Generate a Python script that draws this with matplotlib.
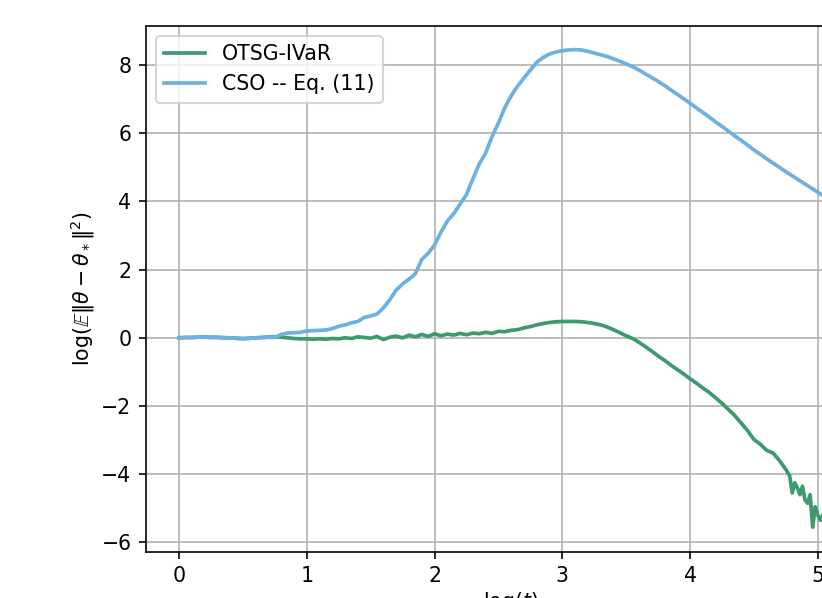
import numpy as np
import matplotlib as mpl
mpl.use('Agg')
import matplotlib.pyplot as plt

DPI = 148

# log(t) grid and the two error curves
t_cso = np.round(np.arange(0, 5.2001, 0.05), 2)
err_cso = [
    0.00, 0.01, 0.01, 0.02, 0.02, 0.02, 0.02, 0.01, 0.00, -0.02,
    -0.03, -0.02, 0.00, 0.01, 0.02, 0.01, 0.10, 0.14, 0.15, 0.16,
    0.20, 0.21, 0.22, 0.23, 0.27, 0.34, 0.38, 0.44, 0.48, 0.60,
    0.64, 0.70, 0.88, 1.12, 1.40, 1.58, 1.72, 1.88, 2.30, 2.48,
    2.72, 3.10, 3.42, 3.64, 3.92, 4.20, 4.66, 5.10, 5.42, 5.90,
    6.30, 6.75, 7.10, 7.38, 7.62, 7.85, 8.08, 8.22, 8.32, 8.38,
    8.42, 8.44, 8.45, 8.44, 8.40, 8.35, 8.30, 8.25, 8.18, 8.11,
    8.03, 7.95, 7.85, 7.74, 7.63, 7.52, 7.40, 7.27, 7.14, 7.01,
    6.88, 6.74, 6.61, 6.47, 6.33, 6.20, 6.06, 5.92, 5.79, 5.65,
    5.51, 5.38, 5.25, 5.12, 5.00, 4.87, 4.75, 4.63, 4.51, 4.39,
    4.27, 4.15, 4.03, 3.91, 3.80,
]

t_otsg = [
    0.00, 0.05, 0.10, 0.15, 0.20, 0.25, 0.30, 0.35, 0.40, 0.45,
    0.50, 0.55, 0.60, 0.65, 0.70, 0.75, 0.80, 0.85, 0.90, 0.95,
    1.00, 1.05, 1.10, 1.15, 1.20, 1.25, 1.30, 1.35, 1.40, 1.45,
    1.50, 1.55, 1.60, 1.65, 1.70, 1.75, 1.80, 1.85, 1.90, 1.95,
    2.00, 2.05, 2.10, 2.15, 2.20, 2.25, 2.30, 2.35, 2.40, 2.45,
    2.50, 2.55, 2.60, 2.65, 2.70, 2.75, 2.80, 2.85, 2.90, 2.95,
    3.00, 3.05, 3.10, 3.15, 3.20, 3.25, 3.30, 3.35, 3.40, 3.45,
    3.50, 3.55, 3.60, 3.65, 3.70, 3.75, 3.80, 3.85, 3.90, 3.95,
    4.00, 4.05, 4.10, 4.15, 4.20, 4.25, 4.30, 4.35, 4.40, 4.45,
    4.50, 4.55, 4.60, 4.65, 4.70, 4.75, 4.78, 4.80, 4.82, 4.84,
    4.86, 4.88, 4.90, 4.92, 4.94, 4.96, 4.98, 5.00, 5.02, 5.05,
    5.08, 5.10, 5.13, 5.15, 5.18, 5.20,
]
err_otsg = [
    0.00, 0.01, 0.01, 0.02, 0.02, 0.01, 0.01, 0.00, 0.00, -0.01,
    -0.02, -0.01, 0.00, 0.01, 0.02, 0.03, 0.02, 0.00, -0.02, -0.03,
    -0.03, -0.04, -0.03, -0.04, -0.02, -0.03, 0.00, -0.02, 0.03, 0.01,
    -0.01, 0.04, -0.05, 0.02, 0.05, 0.00, 0.08, 0.03, 0.10, 0.04,
    0.12, 0.06, 0.11, 0.08, 0.13, 0.09, 0.14, 0.12, 0.16, 0.13,
    0.19, 0.18, 0.22, 0.24, 0.29, 0.33, 0.38, 0.42, 0.45, 0.47,
    0.48, 0.48, 0.48, 0.47, 0.45, 0.42, 0.38, 0.32, 0.24, 0.15,
    0.06, -0.02, -0.13, -0.26, -0.39, -0.53, -0.66, -0.80, -0.93, -1.06,
    -1.20, -1.33, -1.47, -1.60, -1.76, -1.92, -2.10, -2.28, -2.50, -2.72,
    -2.98, -3.12, -3.30, -3.38, -3.60, -3.86, -4.05, -4.55, -4.25, -4.40,
    -4.60, -4.35, -4.75, -4.85, -4.60, -5.55, -4.95, -5.20, -5.35, -5.10,
    -5.45, -5.30, -5.57, -5.40, -5.50, -5.45,
]

fig = plt.figure(figsize=(822 / DPI, 598 / DPI), dpi=DPI)
# axes run past the right edge of the saved image
ax = fig.add_axes([0.1774, 0.0774, 0.889, 0.8796])

ax.plot(t_otsg, err_otsg, color='#3d9a6e', lw=1.8, label='OTSG-IVaR')
ax.plot(t_cso, err_cso, color='#6cb1e1', lw=1.8, label='CSO -- Eq. (11)')

ax.set_xticks([0, 1, 2, 3, 4, 5])
ax.set_yticks([-6, -4, -2, 0, 2, 4, 6, 8])
ax.grid(True)
ax.set_axisbelow(True)
ax.legend(loc='upper left')

ax.set_xlabel(r'$\log(t)$', labelpad=2)
ax.set_ylabel(r'$\log(\mathbb{E}\|\theta-\theta_*\|^2)$', labelpad=2)

fig.savefig('out.png', dpi=DPI)
